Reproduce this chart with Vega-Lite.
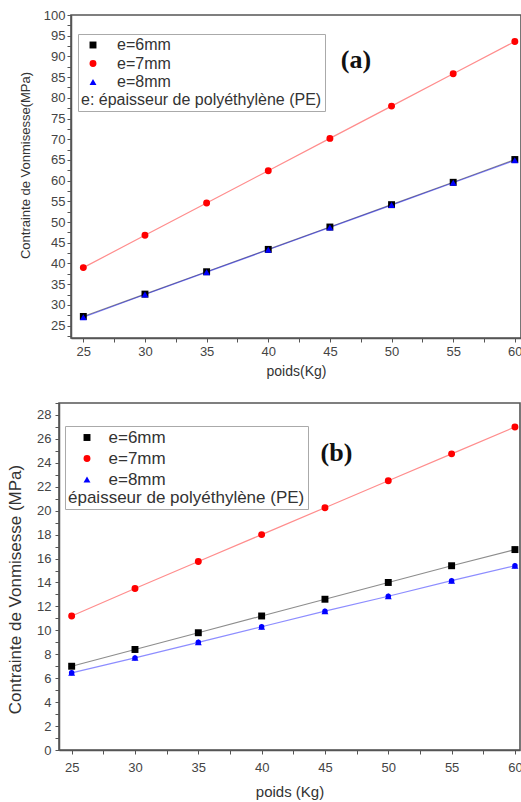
{
  "$schema": "https://vega.github.io/schema/vega-lite/v6.json",
  "padding": {"left": 5, "top": 8, "right": 0, "bottom": 0},
  "background": "white",
  "config": {
    "view": {"stroke": "#555", "strokeWidth": 1.6},
    "font": "Liberation Sans",
    "axis": {
      "grid": false,
      "domainColor": "#555",
      "domainWidth": 1.5,
      "tickColor": "#555",
      "tickWidth": 1,
      "tickSize": 4,
      "labelColor": "#444",
      "labelFont": "Liberation Sans",
      "labelFontSize": 13,
      "labelOverlap": false,
      "labelFlush": false,
      "titleFont": "Liberation Sans",
      "titleFontWeight": "normal",
      "titleColor": "#333"
    },
    "legend": {"titleLimit": 400, "labelLimit": 300}
  },
  "datasets": {
    "a": [
      {"poids": 25, "sigma": 27.2, "e": "e=6mm"}, {"poids": 30, "sigma": 32.6, "e": "e=6mm"},
      {"poids": 35, "sigma": 38.0, "e": "e=6mm"}, {"poids": 40, "sigma": 43.4, "e": "e=6mm"},
      {"poids": 45, "sigma": 48.8, "e": "e=6mm"}, {"poids": 50, "sigma": 54.2, "e": "e=6mm"},
      {"poids": 55, "sigma": 59.6, "e": "e=6mm"}, {"poids": 60, "sigma": 65.1, "e": "e=6mm"},
      {"poids": 25, "sigma": 39.0, "e": "e=7mm"}, {"poids": 30, "sigma": 46.8, "e": "e=7mm"},
      {"poids": 35, "sigma": 54.6, "e": "e=7mm"}, {"poids": 40, "sigma": 62.4, "e": "e=7mm"},
      {"poids": 45, "sigma": 70.2, "e": "e=7mm"}, {"poids": 50, "sigma": 78.0, "e": "e=7mm"},
      {"poids": 55, "sigma": 85.8, "e": "e=7mm"}, {"poids": 60, "sigma": 93.6, "e": "e=7mm"},
      {"poids": 25, "sigma": 27.0, "e": "e=8mm"}, {"poids": 30, "sigma": 32.5, "e": "e=8mm"},
      {"poids": 35, "sigma": 37.9, "e": "e=8mm"}, {"poids": 40, "sigma": 43.3, "e": "e=8mm"},
      {"poids": 45, "sigma": 48.7, "e": "e=8mm"}, {"poids": 50, "sigma": 54.1, "e": "e=8mm"},
      {"poids": 55, "sigma": 59.5, "e": "e=8mm"}, {"poids": 60, "sigma": 64.9, "e": "e=8mm"}
    ],
    "b": [
      {"poids": 25, "sigma": 7.0, "e": "e=6mm"}, {"poids": 30, "sigma": 8.4, "e": "e=6mm"},
      {"poids": 35, "sigma": 9.8, "e": "e=6mm"}, {"poids": 40, "sigma": 11.2, "e": "e=6mm"},
      {"poids": 45, "sigma": 12.6, "e": "e=6mm"}, {"poids": 50, "sigma": 14.0, "e": "e=6mm"},
      {"poids": 55, "sigma": 15.4, "e": "e=6mm"}, {"poids": 60, "sigma": 16.75, "e": "e=6mm"},
      {"poids": 25, "sigma": 11.2, "e": "e=7mm"}, {"poids": 30, "sigma": 13.5, "e": "e=7mm"},
      {"poids": 35, "sigma": 15.75, "e": "e=7mm"}, {"poids": 40, "sigma": 18.0, "e": "e=7mm"},
      {"poids": 45, "sigma": 20.25, "e": "e=7mm"}, {"poids": 50, "sigma": 22.5, "e": "e=7mm"},
      {"poids": 55, "sigma": 24.75, "e": "e=7mm"}, {"poids": 60, "sigma": 27.0, "e": "e=7mm"},
      {"poids": 25, "sigma": 6.45, "e": "e=8mm"}, {"poids": 30, "sigma": 7.7, "e": "e=8mm"},
      {"poids": 35, "sigma": 9.0, "e": "e=8mm"}, {"poids": 40, "sigma": 10.3, "e": "e=8mm"},
      {"poids": 45, "sigma": 11.6, "e": "e=8mm"}, {"poids": 50, "sigma": 12.85, "e": "e=8mm"},
      {"poids": 55, "sigma": 14.15, "e": "e=8mm"}, {"poids": 60, "sigma": 15.4, "e": "e=8mm"}
    ]
  },
  "spacing": 17,
  "resolve": {
    "scale": {"color": "independent", "shape": "independent", "x": "independent", "y": "independent"},
    "legend": {"color": "independent", "shape": "independent"}
  },
  "vconcat": [
    {
      "spacing": 0,
      "bounds": "flush",
      "hconcat": [
        {
          "width": 12,
          "height": 10,
          "view": {"stroke": null},
          "data": {"values": [{}]},
          "mark": {"type": "point", "opacity": 0},
          "encoding": {}
        },
        {
          "width": 450,
          "height": 323,
          "data": {"name": "a"},
          "title": {
            "text": "(a)", "font": "Liberation Serif", "fontSize": 26, "fontWeight": "bold", "color": "#111",
            "anchor": "middle", "frame": "group", "orient": "top", "offset": -64, "dx": 60
          },
          "encoding": {
            "x": {
              "field": "poids", "type": "quantitative",
              "scale": {"domain": [24, 60.5], "nice": false, "zero": false},
              "axis": {
                "title": "poids(Kg)",
                "values": [25, 27.5, 30, 32.5, 35, 37.5, 40, 42.5, 45, 47.5, 50, 52.5, 55, 57.5, 60],
                "labelExpr": "datum.value % 5 === 0 ? datum.label : ''",
                "labelPadding": 3,
                "titleFontSize": 14,
                "titlePadding": 6
              }
            },
            "y": {
              "field": "sigma", "type": "quantitative",
              "scale": {"domain": [22, 100], "nice": false, "zero": false},
              "axis": {
                "title": "Contrainte de Vonmisesse(MPa)",
                "values": [22.5, 25, 27.5, 30, 32.5, 35, 37.5, 40, 42.5, 45, 47.5, 50, 52.5, 55, 57.5, 60, 62.5, 65, 67.5, 70, 72.5, 75, 77.5, 80, 82.5, 85, 87.5, 90, 92.5, 95, 97.5, 100],
                "labelExpr": "datum.value % 5 === 0 ? datum.label : ''",
                "labelPadding": 2,
                "titleFontSize": 13,
                "titlePadding": 11,
                "titleY": 150
              }
            },
            "color": {
              "field": "e", "type": "nominal",
              "scale": {"domain": ["e=6mm", "e=7mm", "e=8mm"], "range": ["#000000", "#ff0000", "#0000ff"]},
              "legend": {
                "orient": "none", "legendX": 19, "legendY": 19,
                "title": "e: épaisseur de polyéthylène (PE)",
                "titleOrient": "bottom", "titleAnchor": "start",
                "titleFontWeight": "normal", "titleFontSize": 16, "titleColor": "#333",
                "titleFont": "Liberation Sans", "titlePadding": 2,
                "labelFont": "Liberation Sans", "labelFontSize": 16, "labelColor": "#333",
                "strokeColor": "#aaa", "fillColor": "white",
                "padding": 3, "rowPadding": 2.5,
                "symbolSize": 48, "symbolOffset": 4, "labelOffset": 16,
                "symbolStrokeWidth": 0, "symbolOpacity": 1
              }
            },
            "shape": {
              "field": "e", "type": "nominal",
              "scale": {"domain": ["e=6mm", "e=7mm", "e=8mm"], "range": ["square", "circle", "triangle-up"]}
            }
          },
          "layer": [
            {
              "mark": {"type": "line", "strokeWidth": 1.2, "strokeOpacity": 0.45},
              "encoding": {"shape": {"value": "circle"}}
            },
            {
              "mark": {"type": "point", "filled": true, "opacity": 1, "size": 48}
            }
          ]
        }
      ]
    },
    {
      "width": 461,
      "height": 347,
      "data": {"name": "b"},
      "title": {
        "text": "(b)", "font": "Liberation Serif", "fontSize": 26, "fontWeight": "bold", "color": "#111",
        "anchor": "middle", "frame": "group", "orient": "top", "offset": -69, "dx": 47
      },
      "encoding": {
        "x": {
          "field": "poids", "type": "quantitative",
          "scale": {"domain": [24, 60.4], "nice": false, "zero": false},
          "axis": {
            "title": "poids (Kg)",
            "values": [25, 27.5, 30, 32.5, 35, 37.5, 40, 42.5, 45, 47.5, 50, 52.5, 55, 57.5, 60],
            "labelExpr": "datum.value % 5 === 0 ? datum.label : ''",
            "labelPadding": 7,
            "titleFontSize": 15,
            "titlePadding": 10
          }
        },
        "y": {
          "field": "sigma", "type": "quantitative",
          "scale": {"domain": [0, 29], "nice": false, "zero": false},
          "axis": {
            "title": "Contrainte de Vonmisesse (MPa)",
            "values": [0, 1, 2, 3, 4, 5, 6, 7, 8, 9, 10, 11, 12, 13, 14, 15, 16, 17, 18, 19, 20, 21, 22, 23, 24, 25, 26, 27, 28, 29],
            "labelExpr": "datum.value % 2 === 0 ? datum.label : ''",
            "labelPadding": 4,
            "titleFontSize": 17,
            "titlePadding": 12,
            "titleY": 186
          }
        },
        "color": {
          "field": "e", "type": "nominal",
          "scale": {"domain": ["e=6mm", "e=7mm", "e=8mm"], "range": ["#000000", "#ff0000", "#0000ff"]},
          "legend": {
            "orient": "none", "legendX": 6, "legendY": 23,
            "title": "épaisseur de polyéthylène (PE)",
            "titleOrient": "bottom", "titleAnchor": "start",
            "titleFontWeight": "normal", "titleFontSize": 17, "titleColor": "#333",
            "titleFont": "Liberation Sans", "titlePadding": 2,
            "labelFont": "Liberation Sans", "labelFontSize": 17, "labelColor": "#333",
            "strokeColor": "#aaa", "fillColor": "white",
            "padding": 3, "rowPadding": 3,
            "symbolSize": 48, "symbolOffset": 10.5, "labelOffset": 13,
            "symbolStrokeWidth": 0, "symbolOpacity": 1
          }
        },
        "shape": {
          "field": "e", "type": "nominal",
          "scale": {"domain": ["e=6mm", "e=7mm", "e=8mm"], "range": ["square", "circle", "triangle-up"]}
        }
      },
      "layer": [
        {
          "mark": {"type": "line", "strokeWidth": 1.2, "strokeOpacity": 0.45},
          "encoding": {"shape": {"value": "circle"}}
        },
        {
          "mark": {"type": "point", "filled": true, "opacity": 1, "size": 48}
        }
      ]
    }
  ]
}
